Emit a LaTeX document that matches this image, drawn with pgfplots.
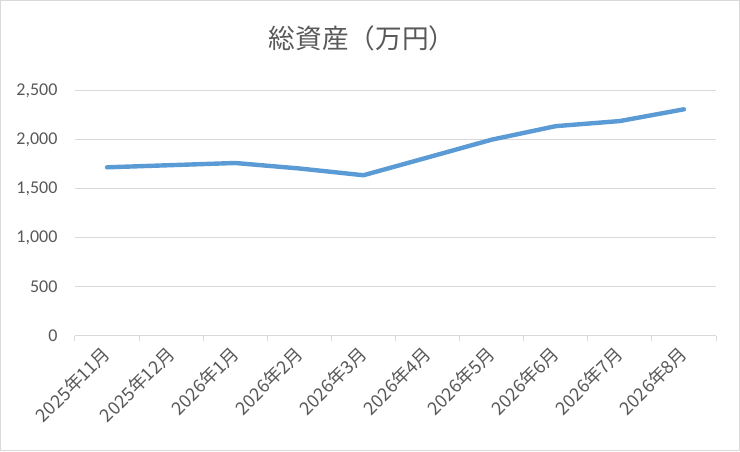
\documentclass[border=0pt]{standalone}
\usepackage{fontspec}
\setmainfont{Carlito}
\newfontfamily\cjk{Noto Sans CJK JP}
\usepackage{pgfplots}
\pgfplotsset{compat=1.18}

\definecolor{txtgray}{HTML}{595959}
\definecolor{gridgray}{HTML}{D9D9D9}
\definecolor{lineblue}{HTML}{5B9BD5}

\begin{document}
\begin{tikzpicture}[x=0.75pt,y=0.75pt]
  % chart area, 740 x 451 px
  \draw[gridgray, line width=0.75pt, fill=white] (0.5,0.5) rectangle (739.5,450.5);
  \useasboundingbox (0,0) rectangle (740,451);
  \node[txtgray, font=\cjk\fontsize{20}{23}\selectfont] at (362,413) {総資産（万円）};

  \begin{axis}[
    at={(56.25pt,86.5pt)}, anchor=south west,
    scale only axis,
    width=480.75pt, height=183.75pt,
    xmin=0.5, xmax=10.5,
    ymin=0, ymax=2500,
    ytick={0,500,...,2500},
    xtick={1,...,10},
    xticklabels={2025年11月,2025年12月,2026年1月,2026年2月,2026年3月,2026年4月,2026年5月,2026年6月,2026年7月,2026年8月},
    minor xtick={0.5,1.5,...,10.5},
    axis x line*=bottom,
    axis y line*=left,
    x axis line style={draw=gridgray, line width=0.75pt, -},
    y axis line style={draw=none},
    ymajorgrids,
    grid style={draw=gridgray, line width=0.75pt},
    tick align=outside,
    major tick length=0pt,
    minor tick length=3.75pt,
    minor x tick style={draw=gridgray, line width=0.75pt},
    ytick style={draw=none},
    /pgf/number format/assume math mode=true,
    /pgf/number format/1000 sep={,},
    yticklabel style={font=\fontsize{13.5}{15}\selectfont, text=txtgray, anchor=east, inner sep=0pt, xshift=-13pt},
    xticklabel style={font=\cjk\fontsize{13.5}{15}\selectfont, text=txtgray, xshift=0pt, yshift=-11pt, rotate=45, anchor=east, inner sep=0pt},
    clip=false,
  ]
    \addplot[lineblue, line width=3.3pt, line cap=round, line join=round] coordinates {
      (1,1718) (2,1740) (3,1762) (4,1706) (5,1637)
      (6,1818) (7,2000) (8,2138) (9,2190) (10,2310)
    };
  \end{axis}
\end{tikzpicture}
\end{document}
